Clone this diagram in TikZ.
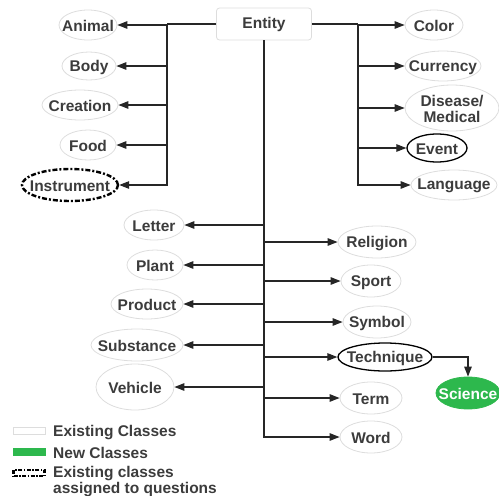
\documentclass[tikz,border=0pt]{standalone}
\usepackage{fontspec}
\setmainfont{Liberation Sans}
\usetikzlibrary{shapes.geometric,arrows.meta}
\definecolor{txtc}{HTML}{3C3C3C}
\definecolor{edgec}{HTML}{DDDDDD}
\definecolor{greenc}{HTML}{2DB84D}
\newcommand\clsnode[6][]{%
  \node[clshape,minimum width=#5pt,minimum height=#6pt,#1] (#2) at #3 {};
  \node[clstext] (#2-t) at ([yshift=-1.2pt]#2) {#4};}
\begin{document}
\begin{tikzpicture}[x=1pt,y=-1pt,
  fnt/.style={font=\fontsize{15.5}{16.5}\selectfont\bfseries,text=txtc},
  clshape/.style={ellipse,draw=edgec,fill=white,line width=0.8pt,inner sep=0pt},
  clstext/.style={fnt,inner sep=0pt,align=center},
  exist/.style={draw=black,line width=1.3pt},
  asked/.style={draw=black,line width=2.4pt,dash pattern=on 5pt off 2pt on 2pt off 2pt},
  newc/.style={draw=greenc,fill=greenc},
  conn/.style={draw=black!85,line width=1.2pt},
  arr/.style={conn,-{Triangle[length=10pt,width=7.5pt]}},
  legtext/.style={fnt,anchor=west,inner sep=0pt,align=left}]
\useasboundingbox (0,0) rectangle (499,496);
% root
\node[draw=edgec,line width=0.8pt,rounded corners=3pt,minimum width=95pt,minimum height=32pt,fill=white,fnt] (entity) at (264,24) {Entity};
% left group
\clsnode{animal}{(88,25)}{Animal}{58}{30}
\clsnode{body}{(89,66)}{Body}{54}{28}
\clsnode{creation}{(80,105)}{Creation}{76}{30}
\clsnode{food}{(88,145)}{Food}{56}{30}
\clsnode[asked]{instrument}{(70,185)}{Instrument}{96}{32}
% right group
\clsnode{color}{(434,25)}{Color}{58}{30}
\clsnode{currency}{(443,66)}{Currency}{76}{30}
\clsnode{disease}{(452,108)}{Disease/\\Medical}{94}{46}
\clsnode[exist]{event}{(437,148)}{Event}{60}{28}
\clsnode{language}{(454,185)}{Language}{86}{30}
% center left
\clsnode{letter}{(154,225)}{Letter}{60}{30}
\clsnode{plant}{(155,265)}{Plant}{56}{30}
\clsnode{product}{(147,304)}{Product}{72}{30}
\clsnode{substance}{(137,345)}{Substance}{92}{32}
\clsnode{vehicle}{(135,387)}{Vehicle}{78}{46}
% center right
\clsnode{religion}{(377,242)}{Religion}{78}{32}
\clsnode{sport}{(371,281)}{Sport}{60}{32}
\clsnode{symbol}{(377,322)}{Symbol}{68}{32}
\clsnode[exist]{technique}{(385,357)}{Technique}{94}{28}
\clsnode{term}{(371,398)}{Term}{62}{32}
\clsnode{word}{(371,437)}{Word}{62}{32}
\clsnode[newc]{science}{(468,393)}{\color{white}Science}{64}{32}
% trunks
\coordinate (lt) at (167,24);
\coordinate (rt) at (358,24);
\coordinate (ct) at (264,437);
\draw[conn] (entity.west) -- (lt);
\draw[conn] (entity.east) -- (rt);
\draw[conn] (entity.south) -- (ct);
\foreach \n in {animal,body,creation,food,instrument}
  \draw[arr] (lt) |- (\n.east);
\foreach \n in {color,currency,disease,event,language}
  \draw[arr] (rt) |- (\n.west);
\foreach \n in {letter,plant,product,substance,vehicle}
  \draw[arr] (entity.south) |- (\n.east);
\foreach \n in {religion,sport,symbol,technique,term,word}
  \draw[arr] (entity.south) |- (\n.west);
\draw[arr] (technique.east) -| (science.north);
% legend
\node[draw=edgec,line width=0.8pt,fill=white,minimum width=32pt,minimum height=7pt,inner sep=0pt] (lg1) at (29,431) {};
\node[newc,minimum width=32pt,minimum height=7pt,inner sep=0pt] (lg2) at (29,452) {};
\node[draw=black,line width=2.2pt,dash pattern=on 4pt off 1.5pt on 1.5pt off 1.5pt,minimum width=31pt,minimum height=6pt,inner sep=0pt] (lg3) at (29,473) {};
\node[legtext] (lt1) at (53,433) {Existing Classes};
\node[legtext] (lt2) at (53,453) {New Classes};
\node[legtext] (lt3) at (53,474) {Existing classes};
\node[legtext] (lt4) at (53,490) {assigned to questions};
\end{tikzpicture}
\end{document}
